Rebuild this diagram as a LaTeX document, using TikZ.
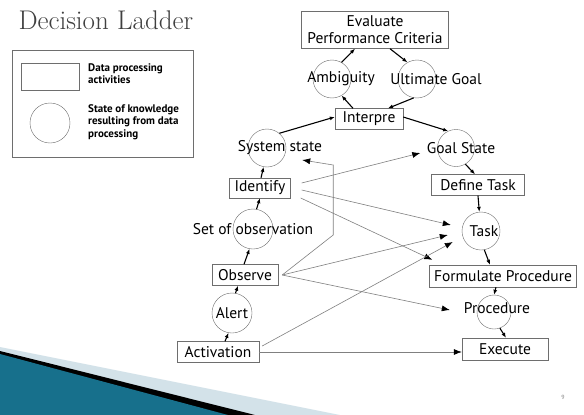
\documentclass[tikz,border=0pt]{standalone}
\usepackage{fontspec}
\newfontfamily\diagfont{PT Sans}
\usetikzlibrary{arrows.meta}
\definecolor{boxgray}{HTML}{6E6E6E}
\definecolor{tealdark}{HTML}{17708C}
\definecolor{teallight}{HTML}{56B6D6}
\definecolor{paleband}{HTML}{D3E2E9}

\begin{document}
\begin{tikzpicture}[x=1pt,y=-1pt,
    act/.style={draw=boxgray, rectangle, inner sep=0pt, font=\diagfont\fontsize{15.5}{17}\selectfont},
    know/.style={draw=boxgray, circle, inner sep=0pt, minimum size=38pt},
    kn/.style={font=\diagfont\fontsize{15.5}{17}\selectfont},
    legtxt/.style={font=\diagfont\bfseries\fontsize{11}{12.5}\selectfont, align=left, inner sep=1pt},
    flow/.style={-{Latex[length=5pt,width=4pt]}, line width=1.1pt},
    jump/.style={-{Latex[length=8pt,width=6pt,color=black]}, draw=gray, line width=0.6pt}]
      \fill[white] (0,0) rectangle (584,415);
      \useasboundingbox (0,0) rectangle (584,415);

      % slide decoration
      \fill[paleband] (0,347) -- (340,415) -- (0,415) -- cycle;
      \fill[black] (0,351) -- (255,415) -- (0,415) -- cycle;
      \shade[left color=tealdark, middle color=teallight, right color=tealdark]
        (0,354) -- (228,415) -- (0,415) -- cycle;
      \node[font=\diagfont\fontsize{6}{6}\selectfont, text=gray] (pgno) at (563,397) {9};

      \node[anchor=west, font=\fontsize{27}{30}\selectfont, text=darkgray] (title) at (15,20) {Decision Ladder};

      % legend
      \node[draw=boxgray, minimum width=181pt, minimum height=107pt, inner sep=0pt] (legend) at (102.5,103.5) {};
      \node[draw=boxgray, minimum width=58pt, minimum height=27pt, inner sep=0pt] (legact) at (50,76.5) {};
      \node[know, minimum size=40pt] (legknow) at (50,123) {};
      \node[legtxt, anchor=north west] (legacttxt) at (87,62) {Data processing\\activities};
      \node[legtxt, anchor=north west] (legknowtxt) at (87,103) {State of knowledge\\resulting from data\\processing};

      % ladder
      \node[act, minimum width=147pt, minimum height=37pt, align=center] (eval) at (375,30) {Evaluate\\Performance Criteria};
      \node[know, label={[kn,xshift=9pt]center:Ambiguity}] (amb) at (332,79) {};
      \node[know, label={[kn,xshift=19pt]center:Ultimate Goal}] (ult) at (417,79) {};
      \node[act, minimum width=68pt, minimum height=21pt] (interp) at (369,119) {Interpre};
      \node[know, minimum size=37pt, label={[kn,xshift=5pt]center:Goal State}] (goal) at (456,148) {};
      \node[know, label={[kn,xshift=13pt]center:System state}] (sys) at (267,148) {};
      \node[act, minimum width=61pt, minimum height=20pt] (ident) at (260,188) {Identify};
      \node[act, minimum width=93pt, minimum height=21pt] (deftask) at (478,185) {Define Task};
      \node[know, minimum size=40pt, label={[kn]center:Set of observation}] (setobs) at (253,229) {};
      \node[know, label={[kn,xshift=3pt]center:Task}] (task) at (481,231) {};
      \node[act, minimum width=66pt, minimum height=21pt] (observe) at (245,275) {Observe};
      \node[act, minimum width=147pt, minimum height=22pt] (formproc) at (503,276) {Formulate Procedure};
      \node[know, minimum size=34pt, label={[kn,xshift=3pt,yshift=4pt]center:Procedure}] (proc) at (494,312) {};
      \node[know, minimum size=40pt, label={[kn]center:Alert}] (alert) at (232,313) {};
      \node[act, minimum width=86pt, minimum height=22pt] (exec) at (505,349) {Execute};
      \node[act, minimum width=82pt, minimum height=21pt] (activ) at (218,352) {Activation};

      \draw[flow] (amb.60) -- ([xshift=-20pt]eval.south);
      \draw[flow] ([xshift=15pt]eval.south) -- (ult.120);
      \draw[flow] ([xshift=-16pt]interp.north) -- (amb.300);
      \draw[flow] (ult.260) -- ([xshift=19pt]interp.north);
      \draw[flow] (sys.50) -- ([yshift=2pt]interp.west);
      \draw[flow] ([yshift=2pt]interp.east) -- (goal.115);
      \draw[flow] (goal.300) -- ([xshift=-3pt]deftask.north);
      \draw[flow] (deftask.south) -- (task.95);
      \draw[flow] (task.280) -- ([xshift=-13pt]formproc.north);
      \draw[flow] ([xshift=-7pt]formproc.south) -- (proc.north);
      \draw[flow] (proc.290) -- ([xshift=1pt]exec.north);
      \draw[flow] ([xshift=7pt]activ.north) -- (alert.260);
      \draw[flow] (alert.80) -- ([xshift=-7pt]observe.south);
      \draw[flow] ([xshift=-1pt]observe.north) -- (setobs.260);
      \draw[flow] (setobs.80) -- (ident.south);
      \draw[flow] ([xshift=1pt]ident.north) -- (sys.260);

      % shortcuts
      \coordinate (idr) at ([xshift=11pt]ident.east);
      \coordinate (obr) at ([xshift=4pt]observe.east);
      \draw[jump] ([yshift=5pt]idr) -- ([xshift=-17pt,yshift=-5pt]goal.west);
      \draw[jump] ([yshift=-2pt]idr) -- ([xshift=-11pt,yshift=6pt]task.west);
      \draw[jump] ([xshift=-1pt,yshift=-10pt]idr) -- ([xshift=3pt,yshift=5pt]formproc.north west);
      \draw[jump] (obr) -- ++(51,-40) -- ++(0,-70) -- ([xshift=16pt,yshift=-12pt]sys.east);
      \draw[jump] (obr) -- ([xshift=-14pt,yshift=-4pt]task.west);
      \draw[jump] (obr) -- ([xshift=-27pt,yshift=2pt]proc.west);
      \draw[jump] ([xshift=3pt,yshift=6pt]activ.east) -- ([xshift=-9pt,yshift=-11pt]task.west);
      \draw[jump] (activ.east) -- (activ.east -| exec.west);
\end{tikzpicture}
\end{document}
